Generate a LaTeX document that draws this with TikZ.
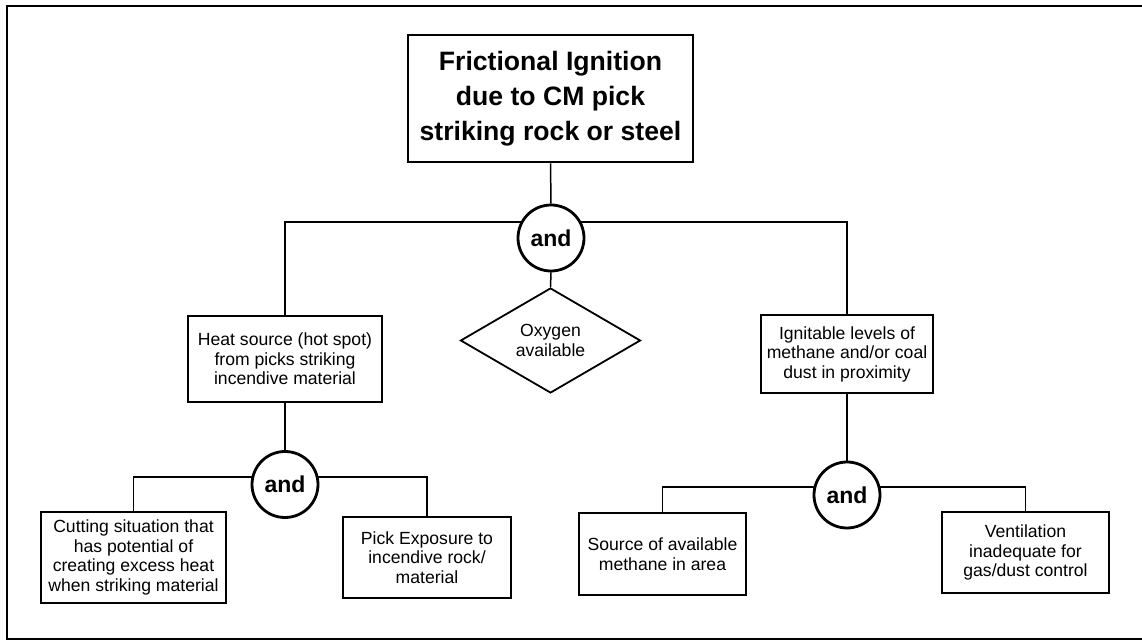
\documentclass[tikz,border=0pt]{standalone}
\usepackage{fontspec}
\setmainfont{Liberation Sans}
\usetikzlibrary{shapes.geometric,backgrounds}

\begin{document}
\begin{tikzpicture}[x=0.5pt, y=-0.5pt,
    eventbox/.style={draw, line width=0.9pt, align=center, inner sep=0pt, font=\fontsize{8.8}{9.75}\selectfont},
    topbox/.style={draw, line width=1.3pt, align=center, inner sep=0pt, minimum width=142.5pt, minimum height=63.5pt, font=\bfseries\fontsize{13.3}{17.5}\selectfont},
    andgate/.style={circle, draw, fill=white, line width=1.4pt, inner sep=0pt, minimum size=33pt, font=\bfseries\fontsize{11.5}{12}\selectfont},
    condition/.style={diamond, draw, fill=white, line width=0.9pt, aspect=1.71, inner sep=0pt, align=center, minimum width=90pt, minimum height=52.5pt, font=\fontsize{8.8}{9.75}\selectfont},
    link/.style={line width=0.75pt}]
        \useasboundingbox (0,0) rectangle (1142,641);
        \draw[line width=0.8pt] (1142,6) -- (7,6) -- (7,639) -- (1142,639);
        \node[topbox] (top) at (550.5,98.5) {Frictional Ignition\\due to CM pick\\striking rock or steel};
        \node[andgate] (and0) at (551,238) {and};
        \node[eventbox, minimum width=97pt, minimum height=43pt] (heat) at (285,359) {Heat source (hot spot)\\from picks striking\\incendive material};
        \node[condition] (oxy) at (550.5,340.5) {Oxygen\\available};
        \node[eventbox, minimum width=86pt, minimum height=39pt] (ign) at (847,354) {Ignitable levels of\\methane and/or coal\\dust in proximity};
        \node[andgate] (and1) at (285,484.5) {and};
        \node[andgate] (and2) at (847,495) {and};
        \node[eventbox, minimum width=92.5pt, minimum height=45.5pt] (cut) at (133.5,557.5) {Cutting situation that\\has potential of\\creating excess heat\\when striking material};
        \node[eventbox, minimum width=84pt, minimum height=40.5pt] (pick) at (427,557.5) {Pick Exposure to\\incendive rock/\\material};
        \node[eventbox, minimum width=83.5pt, minimum height=41pt] (src) at (662.5,554) {Source of available\\methane in area};
        \node[eventbox, minimum width=83.5pt, minimum height=40.5pt] (vent) at (1025.5,552.5) {Ventilation\\inadequate for\\gas/dust control};
        \coordinate (bar0) at (551,222);
        \coordinate (bar1) at (285,477);
        \coordinate (bar2) at (847,487);
        \begin{pgfonlayer}{background}
        \draw[link] (top.south) -- (and0.north);
        \draw[link] (heat.north) |- (bar0) -| (ign.north);
        \draw[link] (and0.south) -- (oxy.north);
        \draw[link] (heat.south) -- (and1.north);
        \draw[link] (cut.north) |- (bar1) -| (pick.north);
        \draw[link] (ign.south) -- (and2.north);
        \draw[link] (src.north) |- (bar2) -| (vent.north);
        \end{pgfonlayer}
      \end{tikzpicture}
\end{document}
